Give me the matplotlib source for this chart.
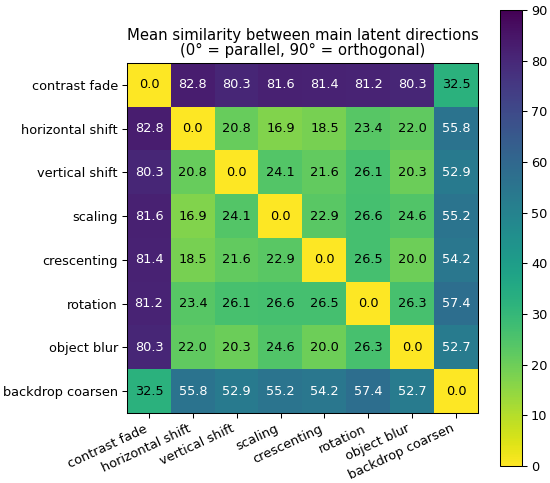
import numpy as np
import matplotlib.pyplot as plt

labels = ["contrast fade", "horizontal shift", "vertical shift", "scaling",
          "crescenting", "rotation", "object blur", "backdrop coarsen"]

angles = np.array([
    [0.0, 82.8, 80.3, 81.6, 81.4, 81.2, 80.3, 32.5],
    [82.8, 0.0, 20.8, 16.9, 18.5, 23.4, 22.0, 55.8],
    [80.3, 20.8, 0.0, 24.1, 21.6, 26.1, 20.3, 52.9],
    [81.6, 16.9, 24.1, 0.0, 22.9, 26.6, 24.6, 55.2],
    [81.4, 18.5, 21.6, 22.9, 0.0, 26.5, 20.0, 54.2],
    [81.2, 23.4, 26.1, 26.6, 26.5, 0.0, 26.3, 57.4],
    [80.3, 22.0, 20.3, 24.6, 20.0, 26.3, 0.0, 52.7],
    [32.5, 55.8, 52.9, 55.2, 54.2, 57.4, 52.7, 0.0],
])

# rendered slightly smaller than default (dpi 93) so that 10pt text matches
dpi = 93
fig = plt.figure(figsize=(550 / dpi, 483 / dpi), dpi=dpi)
ax = fig.add_axes([127 / 550, 1 - 413 / 483, 351 / 550, 350 / 483])
cax = fig.add_axes([500 / 550, 1 - 466 / 483, 22 / 550, 456 / 483])

im = ax.imshow(angles, cmap="viridis_r", vmin=0, vmax=90, aspect="auto")
fig.colorbar(im, cax=cax)

n = len(labels)
ax.set_xticks(range(n))
ax.set_yticks(range(n))
ax.set_xticklabels(labels, rotation=25, ha="right")
ax.set_yticklabels(labels)

for i in range(n):
    for j in range(n):
        v = angles[i, j]
        ax.text(j, i, f"{v:.1f}", ha="center", va="center",
                color="white" if v > 45 else "black", fontsize=10)

ax.set_title("Mean similarity between main latent directions\n(0° = parallel, 90° = orthogonal)",
             fontsize=11.5, linespacing=1.05)

fig.savefig("out.png", dpi=dpi)
